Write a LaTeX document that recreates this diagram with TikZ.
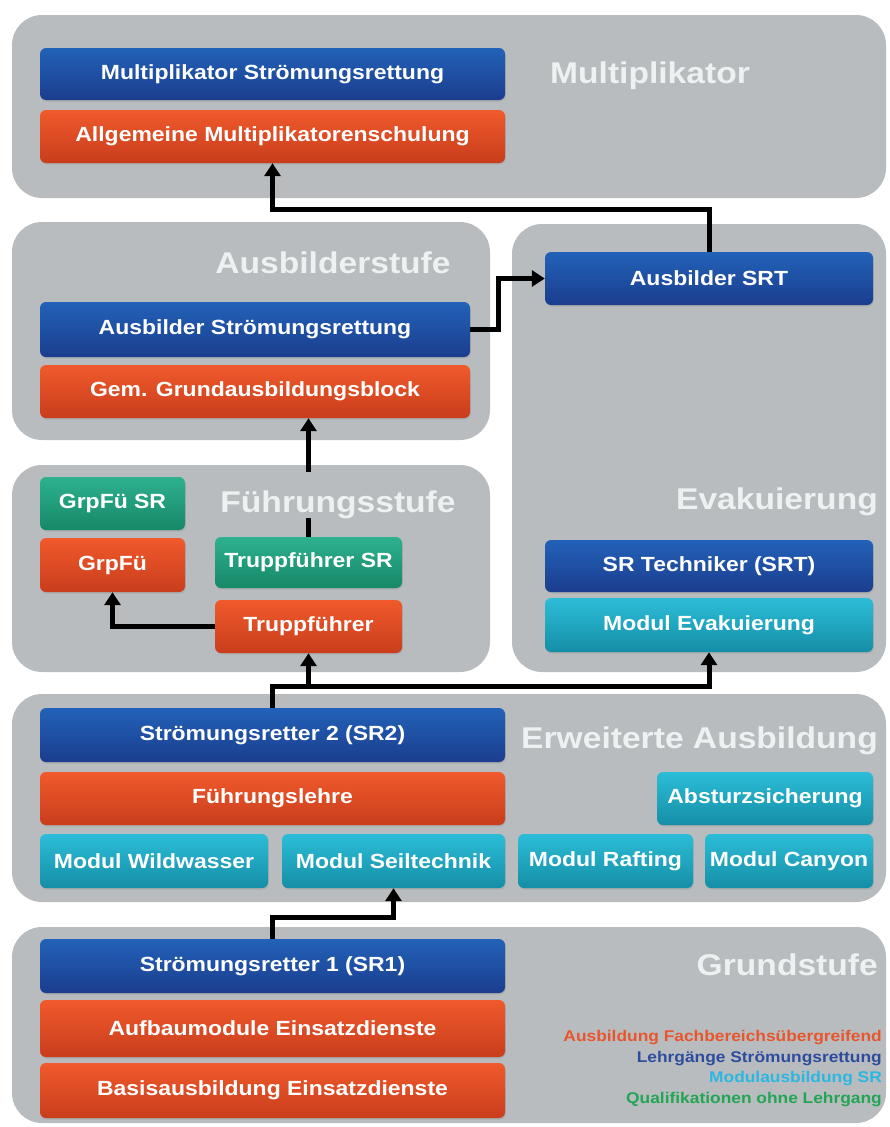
\documentclass[tikz,border=0pt]{standalone}
\usepackage{fontspec}
\setmainfont{Liberation Sans}[FakeStretch=1.12]
\usepackage{tikz}
\usetikzlibrary{arrows.meta,shadows}
\definecolor{panelgray}{HTML}{B8BCBE}
\definecolor{titlewhite}{HTML}{EEF1F2}
\definecolor{blueT}{HTML}{2262B8}
\definecolor{blueB}{HTML}{1B3D8E}
\definecolor{orangeT}{HTML}{F05A2C}
\definecolor{orangeB}{HTML}{C93D1C}
\definecolor{cyanT}{HTML}{2CBDD8}
\definecolor{cyanB}{HTML}{158EA6}
\definecolor{greenT}{HTML}{2EB18F}
\definecolor{greenB}{HTML}{168868}
\definecolor{legOrange}{HTML}{E9552C}
\definecolor{legBlue}{HTML}{2E4C9E}
\definecolor{legCyan}{HTML}{2BB7E2}
\definecolor{legGreen}{HTML}{22A554}

\begin{document}
\begin{tikzpicture}[x=1pt,y=-1pt,
  panel/.style={fill=panelgray,rounded corners=30pt},
  box/.style={rounded corners=6pt,text=white,inner sep=0pt,
    font=\fontsize{20.5}{24}\selectfont\bfseries,
    drop shadow={opacity=0.25,shadow xshift=0.8pt,shadow yshift=-1.5pt}},
  blue box/.style={box,top color=blueT,bottom color=blueB},
  orange box/.style={box,top color=orangeT,bottom color=orangeB},
  cyan box/.style={box,top color=cyanT,bottom color=cyanB},
  green box/.style={box,top color=greenT,bottom color=greenB},
  stage/.style={text=titlewhite,inner sep=0pt,font=\fontsize{30}{36}\selectfont\bfseries},
  conn/.style={line width=5pt,-{Triangle[width=16pt,length=13pt]}},
  legend/.style={inner sep=0pt,anchor=base east,font=\fontsize{15.5}{18}\selectfont\bfseries}]
\useasboundingbox (0,0) rectangle (890,1127);

\fill[panel] (12,15) rectangle (886,198);
\fill[panel] (12,222) rectangle (490,440);
\fill[panel] (512,224) rectangle (886,672);
\fill[panel] (12,465) rectangle (490,672);
\fill[panel] (12,694) rectangle (886,902);
\fill[panel] (12,927) rectangle (886,1123);

\node[blue box,minimum width=465pt,minimum height=52pt] (mulsr) at (272.5,74) {Multiplikator Strömungsrettung};
\node[orange box,minimum width=465pt,minimum height=53pt] (allg) at (272.5,136.5) {Allgemeine Multiplikatorenschulung};

\node[blue box,minimum width=430pt,minimum height=55pt] (ausbsr) at (255,329.5) {Ausbilder Strömungsrettung};
\node[orange box,minimum width=430pt,minimum height=53pt] (gem) at (255,391.5) {Gem. Grundausbildungsblock};

\node[blue box,minimum width=328pt,minimum height=53pt] (asrt) at (709,278.5) {Ausbilder SRT};
\node[blue box,minimum width=328pt,minimum height=52pt] (srt) at (709,566) {SR Techniker (SRT)};
\node[cyan box,minimum width=328pt,minimum height=54pt] (modevak) at (709,625) {Modul Evakuierung};

\node[green box,minimum width=145pt,minimum height=53pt] (grpfusr) at (112.5,503.5) {GrpFü SR};
\node[orange box,minimum width=145pt,minimum height=54pt] (grpfu) at (112.5,565) {GrpFü};
\node[green box,minimum width=187pt,minimum height=51pt] (tfsr) at (308.5,562.5) {Truppführer SR};
\node[orange box,minimum width=187pt,minimum height=53pt] (tf) at (308.5,626.5) {Truppführer};

\node[blue box,minimum width=465pt,minimum height=54pt] (sr2) at (272.5,735) {Strömungsretter 2 (SR2)};
\node[orange box,minimum width=465pt,minimum height=53pt] (fl) at (272.5,798.5) {Führungslehre};
\node[cyan box,minimum width=216pt,minimum height=53pt] (abs) at (765,798.5) {Absturzsicherung};
\node[cyan box,minimum width=228pt,minimum height=54pt] (mww) at (154,861) {Modul Wildwasser};
\node[cyan box,minimum width=223pt,minimum height=54pt] (mst) at (393.5,861) {Modul Seiltechnik};
\node[cyan box,minimum width=175pt,minimum height=54pt] (mraf) at (605.5,861) {Modul Rafting};
\node[cyan box,minimum width=168pt,minimum height=54pt] (mcan) at (789,861) {Modul Canyon};

\node[blue box,minimum width=465pt,minimum height=54pt] (sr1) at (272.5,966) {Strömungsretter 1 (SR1)};
\node[orange box,minimum width=465pt,minimum height=57pt] (aufb) at (272.5,1028.5) {Aufbaumodule Einsatzdienste};
\node[orange box,minimum width=465pt,minimum height=55pt] (basis) at (272.5,1090.5) {Basisausbildung Einsatzdienste};

\coordinate (bus) at (309,686);
\draw[conn] (asrt.north) -- ++(0,-42) -| (allg.south);
\draw[conn] (ausbsr.east) -- ++(28,0) |- (asrt.west);
\draw[conn] (tfsr.north) -- (tfsr.north |- gem.south);
\draw[conn] (tf.west) -| (grpfu.south);
\draw[conn] (sr2.north) |- (tf.south |- bus) -- (tf.south);
\draw[conn] (tf.south |- bus) -| (modevak.south);
\draw[conn] (sr1.north) -- ++(0,-21) -| (mst.south);

\node[stage,anchor=base] (tmul) at (650,83) {Multiplikator};
\node[stage,anchor=base] (taus) at (333,273) {Ausbilderstufe};
\node[stage,anchor=base east] (tevak) at (878,509) {Evakuierung};
\node[stage,anchor=base,fill=panelgray,text height=40pt,text depth=6pt] (tfue) at (338,512) {Führungsstufe};
\node[stage,anchor=base east] (terw) at (878,748) {Erweiterte Ausbildung};
\node[stage,anchor=base east] (tgrund) at (878,975) {Grundstufe};

\node[legend,text=legOrange] (leg1) at (882,1041) {Ausbildung Fachbereichsübergreifend};
\node[legend,text=legBlue] (leg2) at (882,1062) {Lehrgänge Strömungsrettung};
\node[legend,text=legCyan] (leg3) at (882,1082) {Modulausbildung SR};
\node[legend,text=legGreen] (leg4) at (882,1103) {Qualifikationen ohne Lehrgang};
\end{tikzpicture}
\end{document}
